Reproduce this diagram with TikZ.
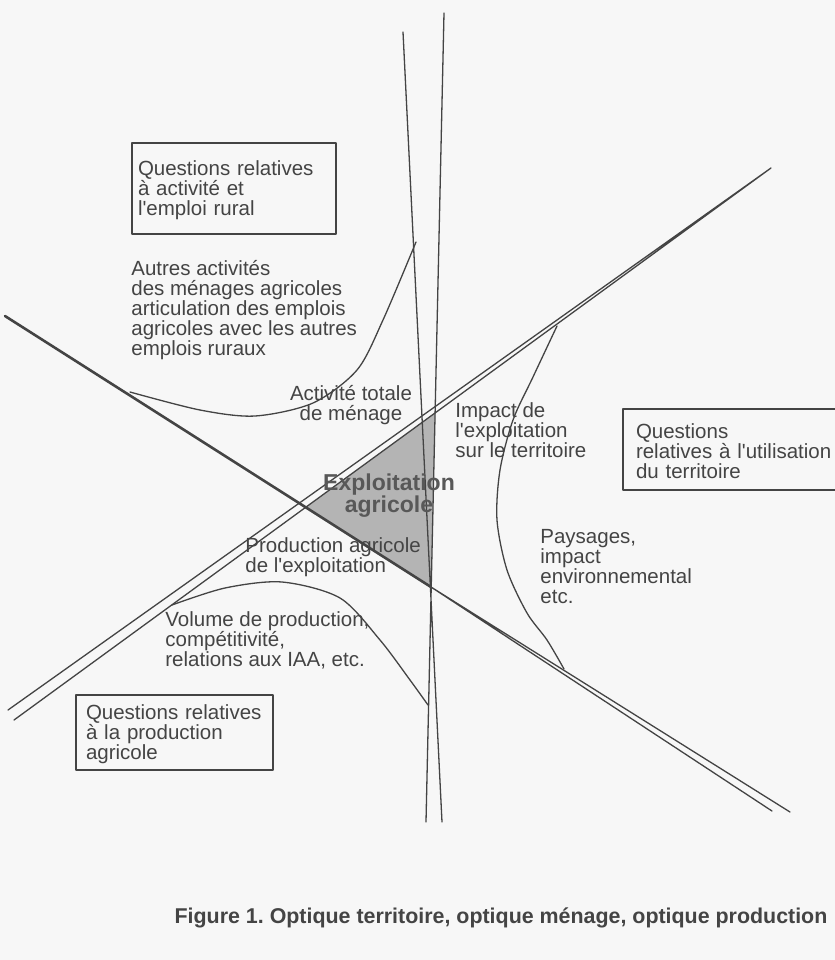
\documentclass[tikz,border=0pt]{standalone}
\usepackage{fontspec}
\setmainfont{Liberation Sans}[Ligatures=TeXOff]
\usetikzlibrary{positioning}
\definecolor{ink}{RGB}{68,68,68}
\definecolor{paper}{RGB}{247,247,247}
\definecolor{grise}{RGB}{180,180,180}
\definecolor{titregris}{RGB}{88,88,88}
\newcommand{\hstrut}{\rule{0pt}{9pt}}
\frenchspacing
\begin{document}
\begin{tikzpicture}[x=0.5pt,y=-0.5pt, line join=round, line cap=round,
  trait/.style={draw=ink, line width=0.65pt},
  txt/.style={inner sep=0pt, align=left, text=ink, font=\fontsize{10.25}{10}\selectfont, execute at begin node=\hstrut},
  qbox/.style={txt, draw=ink, line width=0.65pt, inner ysep=0pt, align=left}]
	\def\W{835} \def\H{960}
	\fill[paper] (0,0) rectangle (\W,\H);
	\useasboundingbox (0,0) rectangle (\W,\H);
	\clip (0,0) rectangle (\W,\H);
	% les trois optiques
	\coordinate (r0) at (771,168); \coordinate (r1) at (8,710); \coordinate (r2) at (14,720);
	\coordinate (d0) at (5,316); \coordinate (c) at (431,587); \coordinate (d1) at (772,811); \coordinate (d2) at (790,812);
	\coordinate (a0) at (403,32); \coordinate (a1) at (442,822);
	\coordinate (b0) at (444,13); \coordinate (b1) at (426,822);
	\fill[grise] (intersection of r0--r2 and b0--b1) -- (intersection of r0--r2 and d0--c)
		-- (c) -- cycle;
	\draw[trait] (r0)--(r1) (r0)--(r2);
	\draw[trait, line width=1.3pt] (d0)--(c);
	\draw[trait] (c)--(d1) (c)--(d2);
	\draw[trait] (a0)--(a1) (b0)--(b1);
	% courbes
	\draw[trait] plot[smooth] coordinates {(130,392) (200,410) (255,416) (313,403) (357,370) (383,320) (416,242)};
	\draw[trait] plot[smooth] coordinates {(557,326) (533,377) (513,420) (500,470) (497,520) (507,570) (527,613) (547,640) (564,669)};
	\draw[trait] plot[smooth] coordinates {(172,605) (225,588) (282,582) (340,598) (380,640) (410,680) (428,705)};
	% cadres
	\node[qbox, text width=96pt, inner xsep=3pt, minimum height=45.5pt] (qemploi) at (234,188.5)
		{Questions relatives\\à activité et\\l'emploi rural};
	\node[qbox, text width=115.5pt, inner xsep=6.5pt, minimum height=40.5pt] (qterr) at (751.5,449.5)
		{Questions\\relatives à l'utilisation\\du territoire};
	\node[qbox, text width=88.5pt, inner xsep=5pt, minimum height=37.5pt] (qprod) at (174.5,732.5)
		{Questions relatives\\à la production\\agricole};
	% textes
	\node[txt, anchor=north west] (autres) at (131,260) {Autres activités\\des ménages agricoles\\articulation des emplois\\agricoles avec les autres\\emplois ruraux};
	\node[txt, anchor=north, align=center] (menage) at (351,385) {Activité totale\\de ménage};
	\node[txt, anchor=north west] (impact) at (455,402) {Impact de\\l'exploitation\\sur le territoire};
	\node[txt, anchor=north, align=center, text=titregris, font=\bfseries\fontsize{11.5}{11}\selectfont] (exploit) at (389,473) {Exploitation\\agricole};
	\node[txt, anchor=north west] (prodagri) at (245,537) {Production agricole\\de l'exploitation};
	\node[txt, anchor=north west] (paysages) at (540,529) {Paysages,\\impact\\environnemental\\etc.};
	\node[txt, anchor=north west] (volume) at (165,611) {Volume de production,\\compétitivité,\\relations aux IAA, etc.};
	\node[inner sep=0pt, anchor=base, text=ink, font=\bfseries\fontsize{10.7}{12}\selectfont] (titre) at (501,923)
		{Figure 1. Optique territoire, optique ménage, optique production};
\end{tikzpicture}
\end{document}
